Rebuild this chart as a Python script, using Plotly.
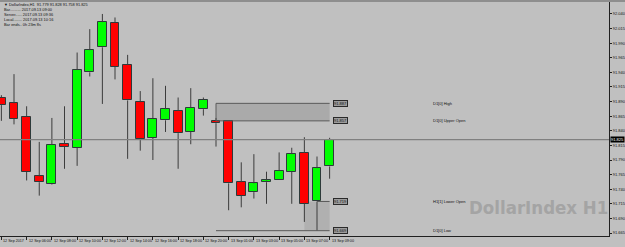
import plotly.graph_objects as go

# ---------------- data ----------------
bar_idx = list(range(27))
opens  = [91.897, 91.887, 91.864, 91.762, 91.749, 91.818, 91.811, 91.940, 91.983, 92.025,
          91.953, 91.889, 91.828, 91.858, 91.874, 91.838, 91.877, 91.857, 91.857, 91.752,
          91.735, 91.752, 91.756, 91.770, 91.802, 91.719, 91.779]
highs  = [91.901, 91.937, 91.882, 91.821, 91.862, 91.882, 91.974, 92.014, 92.040, 92.034,
          91.970, 91.908, 91.930, 91.917, 91.897, 91.913, 91.897, 91.862, 91.858, 91.786,
          91.800, 91.770, 91.803, 91.811, 91.829, 91.796, 91.828]
lows   = [91.857, 91.851, 91.755, 91.729, 91.748, 91.775, 91.780, 91.933, 91.886, 91.928,
          91.792, 91.806, 91.790, 91.838, 91.775, 91.817, 91.866, 91.813, 91.704, 91.709,
          91.724, 91.715, 91.756, 91.715, 91.684, 91.669, 91.758]
closes = [91.884, 91.861, 91.770, 91.752, 91.816, 91.813, 91.944, 91.978, 92.026, 91.950,
          91.892, 91.826, 91.861, 91.877, 91.836, 91.879, 91.893, 91.853, 91.750, 91.729,
          91.750, 91.755, 91.772, 91.800, 91.715, 91.776, 91.825]

x_tick_idx = [0, 2, 4, 6, 8, 10, 12, 14, 16, 18, 20, 22, 24, 26]
x_tick_text = ["12 Sep 2017", "12 Sep 06:00", "12 Sep 08:00", "12 Sep 10:00", "12 Sep 12:00",
               "12 Sep 14:00", "12 Sep 16:00", "12 Sep 18:00", "12 Sep 20:00", "13 Sep 01:00",
               "13 Sep 03:00", "13 Sep 05:00", "13 Sep 07:00", "13 Sep 09:00"]
y_ticks = [92.040, 92.015, 91.990, 91.965, 91.940, 91.915, 91.890, 91.865, 91.840,
           91.815, 91.790, 91.765, 91.740, 91.715, 91.690, 91.665]
current_price = 91.825

d1_high = 91.887
d1_open = 91.857
h1_lower_open = 91.719
d1_low = 91.669
box_start_bar = 17
box_end_bar = 26
lower_box_start_bar = 24

info_lines = ["\u25bc DollarIndex,H1  91.779 91.828 91.758 91.825",
              "Bar.......... 2017.09.13 09:00",
              "Server...... 2017.09.13 09:36",
              "Local........ 2017.09.13 10:16",
              "Bar ends.. 0h 23m 8s"]

# ---------------- figure ----------------
W, H = 625, 247
BG = "#c0c0c0"
UP = "#00ff00"
DN = "#ff0000"
EDGE = "#2d3a3a"
WICK = "#3c3c3c"
SMALL = "Liberation Sans"

x_right_px = 609
y_top_px, y_bot_px = 2, 236
x_dom = [0, x_right_px / W]
y_dom = [(H - y_bot_px) / H, (H - y_top_px) / H]

fig = go.Figure()

# wicks (upper and lower parts so they don't cross bodies)
wx, wy = [], []
for i, o, h, l, c in zip(bar_idx, opens, highs, lows, closes):
    top, bot = max(o, c), min(o, c)
    if h > top:
        wx += [i, i, None]; wy += [h, top, None]
    if l < bot:
        wx += [i, i, None]; wy += [bot, l, None]
fig.add_trace(go.Scatter(x=wx, y=wy, mode="lines", line=dict(color=WICK, width=1),
                         hoverinfo="skip", showlegend=False))

# bodies
bases = [min(o, c) for o, c in zip(opens, closes)]
heights = [max(abs(c - o), 0.0015) for o, c in zip(opens, closes)]
colors = [UP if c >= o else DN for o, c in zip(opens, closes)]
fig.add_trace(go.Bar(x=bar_idx, y=heights, base=bases, width=0.7,
                     marker=dict(color=colors, line=dict(color=EDGE, width=1)),
                     showlegend=False, hoverinfo="skip"))

shapes = []
# level boxes
shapes.append(dict(type="rect", xref="x", yref="y", x0=box_start_bar, x1=box_end_bar,
                   y0=d1_open, y1=d1_high, fillcolor="#aaaaaa", line=dict(width=0), layer="below"))
shapes.append(dict(type="rect", xref="x", yref="y", x0=lower_box_start_bar, x1=box_end_bar,
                   y0=d1_low, y1=h1_lower_open, fillcolor="#b0b0b0", line=dict(width=0), layer="below"))
for y0, x0 in [(d1_high, box_start_bar), (d1_open, box_start_bar), (d1_low, box_start_bar),
               (h1_lower_open, lower_box_start_bar + 1)]:
    shapes.append(dict(type="line", xref="x", yref="y", x0=x0, x1=box_end_bar, y0=y0, y1=y0,
                       line=dict(color="#5a5a5a", width=1)))
shapes.append(dict(type="line", xref="x", yref="y", x0=box_start_bar, x1=box_start_bar,
                   y0=d1_open, y1=d1_high, line=dict(color="#5a5a5a", width=1)))
# current price line
shapes.append(dict(type="line", xref="paper", yref="y", x0=0, x1=x_right_px / W,
                   y0=current_price, y1=current_price, line=dict(color="#808080", width=1.2)))
# top dark strip
shapes.append(dict(type="rect", xref="paper", yref="paper", x0=0, x1=1, y0=y_dom[1], y1=1,
                   fillcolor="#8e8e8e", line=dict(width=0)))

ann = []
# info lines top-left
for k, t in enumerate(info_lines):
    ann.append(dict(text=t, xref="paper", yref="paper", x=2 / W, y=(H - (5 + 4.75 * k)) / H,
                    xanchor="left", yanchor="middle", showarrow=False,
                    font=dict(size=3.9, color="#101010", family=SMALL)))
# x tick labels
for i, t in zip(x_tick_idx, x_tick_text):
    ann.append(dict(text=t, xref="x", yref="paper", x=i, y=(H - 241) / H, xanchor="left",
                    yanchor="middle", showarrow=False,
                    font=dict(size=3.7, color="#101010", family=SMALL)))
# price tags for levels
for lv in [d1_high, d1_open, h1_lower_open, d1_low]:
    ann.append(dict(text=f"{lv:.3f}", xref="x", yref="y", x=box_end_bar, y=lv, xanchor="left",
                    yanchor="middle", xshift=3, showarrow=False, bgcolor="#9c9c9c",
                    bordercolor="#2a2a2a", borderwidth=1, borderpad=0,
                    font=dict(size=4.0, color="#101010", family=SMALL)))
# level names
for lv, name in [(d1_high, "D1[0] High"), (d1_open, "D1[0] Upper Open"),
                 (h1_lower_open, "H1[1] Lower Open"), (d1_low, "D1[0] Low")]:
    ann.append(dict(text=name, xref="x", yref="y", x=34, y=lv, xanchor="left", yanchor="middle",
                    showarrow=False, font=dict(size=4.0, color="#101010", family=SMALL)))
# current price tag
ann.append(dict(text=f"{current_price:.3f}", xref="paper", yref="y", x=1, y=current_price,
                xanchor="right", yanchor="middle", showarrow=False, bgcolor="#000000",
                borderpad=0, font=dict(size=4.0, color="#ffffff", family=SMALL)))
# watermark
ann.append(dict(text="<b>DollarIndex H1</b>", xref="paper", yref="paper", x=467 / W,
                y=(H - 207) / H, xanchor="left", yanchor="middle", showarrow=False,
                font=dict(size=18.5, color="#a4a4a4", family="DejaVu Sans Condensed")))

fig.update_layout(
    width=W, height=H, margin=dict(l=0, r=0, t=0, b=0),
    paper_bgcolor=BG, plot_bgcolor=BG, bargap=0, showlegend=False,
    shapes=shapes, annotations=ann,
    xaxis=dict(domain=x_dom, range=[-0.11, 48.13], showgrid=False, zeroline=False,
               showline=True, linecolor="#202020", linewidth=1,
               tickvals=x_tick_idx, ticktext=[""] * len(x_tick_idx), ticks="outside",
               ticklen=3, tickcolor="#202020", fixedrange=True),
    yaxis=dict(domain=y_dom, range=[91.6599, 92.0605], side="right", showgrid=False,
               zeroline=False, showline=True, linecolor="#202020", linewidth=1,
               tickvals=y_ticks, ticktext=[f"{v:.3f}" for v in y_ticks], ticks="outside",
               ticklen=2, tickcolor="#202020",
               tickfont=dict(size=4.0, color="#101010", family=SMALL), fixedrange=True),
)

fig.write_html("out.html")
